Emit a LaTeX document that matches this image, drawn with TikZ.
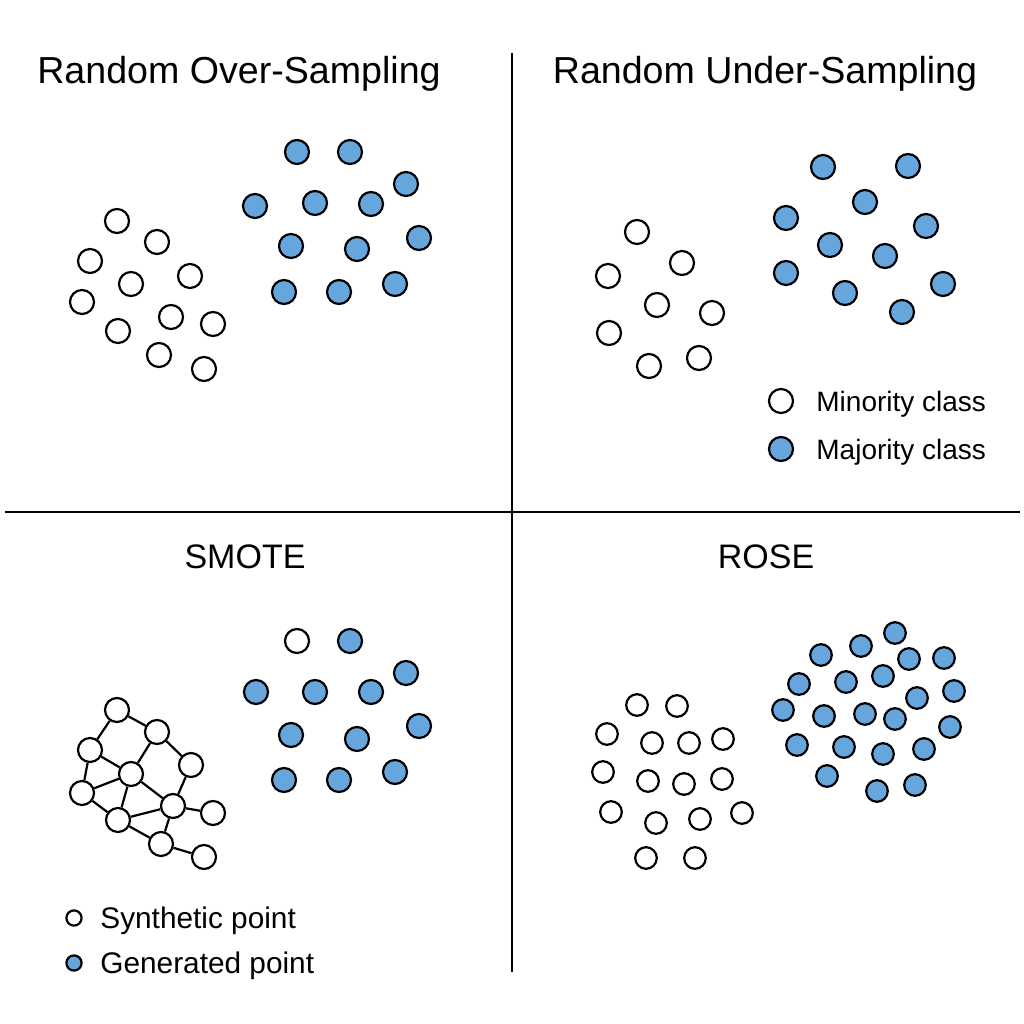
\documentclass[tikz,border=0pt]{standalone}
\usepackage{fontspec}
\setmainfont{Liberation Sans}
\definecolor{majblue}{RGB}{102,166,220}

\begin{document}
\begin{tikzpicture}[x=0.5pt,y=-0.5pt,
  pt/.style={circle,draw,line width=1.1pt,fill=white,minimum size=12pt,inner sep=0pt},
  mj/.style={pt,fill=majblue},
  sm/.style={pt,minimum size=10.8pt},
  smj/.style={sm,fill=majblue},
  tiny/.style={pt,minimum size=7.6pt},
  ttl/.style={font=\fontsize{18.8}{22}\selectfont,anchor=base},
  sttl/.style={font=\fontsize{17}{20}\selectfont,anchor=base},
  lg/.style={anchor=base west,inner sep=0pt}]
  \useasboundingbox (0,0) rectangle (1024,1024);
  \fill[white] (0,0) rectangle (1024,1024);

  % dividers
  \draw[line width=0.85pt] (512,53) -- (512,972);
  \draw[line width=0.85pt] (5,512) -- (1020,512);

  % titles
  \node[ttl] (t1) at (239,83) {Random Over-Sampling};
  \node[ttl] (t2) at (765,83) {Random Under-Sampling};
  \node[sttl] (t3) at (245,568) {SMOTE};
  \node[sttl] (t4) at (766,568) {ROSE};

  % Random Over-Sampling
  \foreach \x/\y [count=\i] in {117/221,157/242,90/261,190/276,131/284,82/302,
      171/317,213/324,118/331,159/355,204/369}
    \node[pt] (ow\i) at (\x,\y) {};
  \foreach \x/\y [count=\i] in {297/152,350/152,406/184,255/206,315/203,371/204,
      291/246,357/249,419/238,284/292,339/292,395/284}
    \node[mj] (ob\i) at (\x,\y) {};

  % Random Under-Sampling
  \foreach \x/\y [count=\i] in {637/232,682/263,608/276,657/305,712/313,609/333,
      649/366,699/358}
    \node[pt] (uw\i) at (\x,\y) {};
  \foreach \x/\y [count=\i] in {823/167,908/166,865/202,786/218,926/226,830/245,
      885/256,786/273,943/284,845/293,902/312}
    \node[mj] (ub\i) at (\x,\y) {};
  \node[pt] (lgw) at (781,401) {};
  \node[mj] (lgb) at (781,449) {};
  \node[lg,font=\fontsize{14}{17}\selectfont] (lgwt) at (816,411) {Minority class};
  \node[lg,font=\fontsize{14}{17}\selectfont] (lgbt) at (816,459) {Majority class};

  % SMOTE
  \foreach \x/\y [count=\i] in {117/710,157/732,90/750,191/765,131/774,82/793,
      173/806,213/813,118/820,161/844,204/857}
    \node[pt] (s\i) at (\x,\y) {};
  \foreach \a/\b in {1/2,1/3,2/5,2/4,3/5,3/6,6/5,5/7,5/9,4/7,7/8,9/7,6/9,9/10,7/10,10/11}
    \draw[line width=1.1pt] (s\a) -- (s\b);
  \node[pt] (sw1) at (297,641) {};
  \foreach \x/\y [count=\i] in {350/641,406/673,256/692,315/692,371/692,
      291/735,357/739,419/726,284/780,339/780,395/772}
    \node[mj] (sb\i) at (\x,\y) {};
  \node[tiny] (lgs) at (74,918) {};
  \node[tiny,fill=majblue] (lgg) at (74,963) {};
  \node[lg,font=\fontsize{14.9}{17}\selectfont] (lgst) at (100,928) {Synthetic point};
  \node[lg,font=\fontsize{14.9}{17}\selectfont] (lggt) at (100,973) {Generated point};

  % ROSE
  \foreach \x/\y [count=\i] in {637/705,677/706,607/734,652/743,689/743,723/739,
      603/772,648/781,684/784,722/779,611/812,656/823,700/819,742/813,646/858,695/858}
    \node[sm] (rw\i) at (\x,\y) {};
  \foreach \x/\y [count=\i] in {895/633,861/646,821/655,909/659,944/658,799/684,
      846/682,883/676,954/691,917/698,783/710,824/716,865/714,895/719,950/727,
      797/745,844/747,883/754,924/749,827/776,877/791,915/785}
    \node[smj] (rb\i) at (\x,\y) {};
\end{tikzpicture}
\end{document}
